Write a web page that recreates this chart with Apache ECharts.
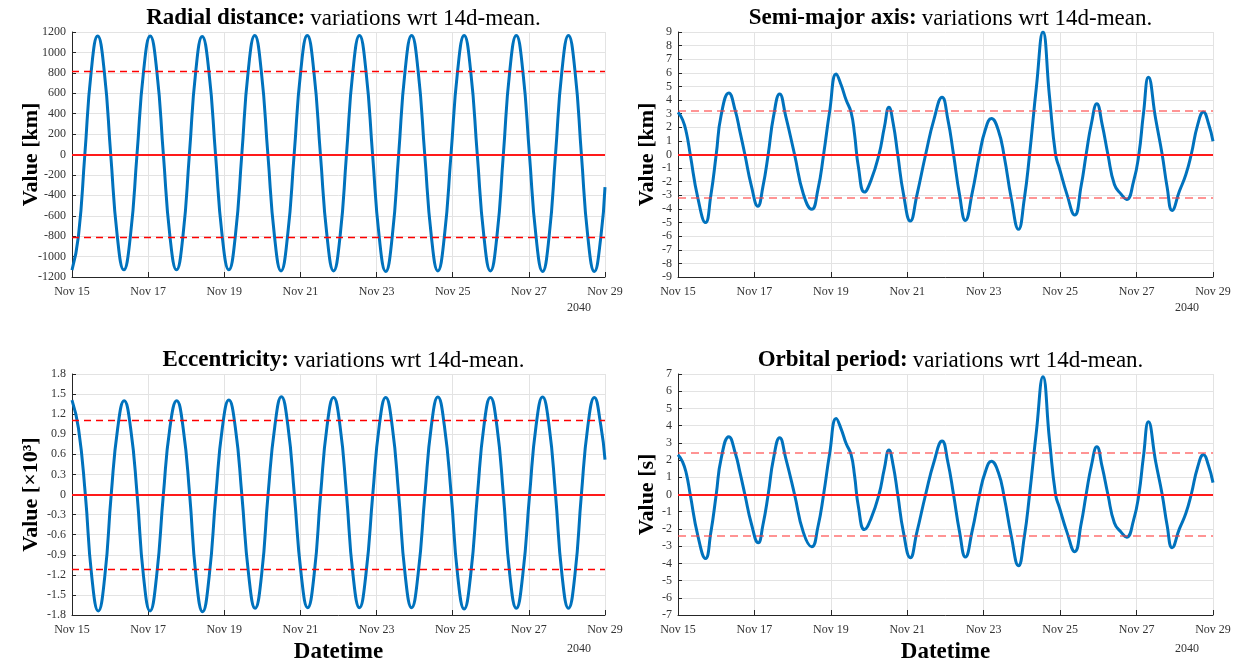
<!DOCTYPE html>
<html>
<head>
<meta charset="utf-8">
<script src="https://cdn.jsdelivr.net/npm/echarts@6/dist/echarts.min.js"></script>
<style>
  html, body { margin: 0; padding: 0; background: #ffffff; }
  #chart { width: 1241px; height: 665px; }
</style>
</head>
<body>
<div id="chart"></div>
<script>
// Time is measured in days since 2040-11-15 00:00 UTC.
const START_UTC = Date.UTC(2040, 10, 15);
const MONTHS = ['Jan','Feb','Mar','Apr','May','Jun','Jul','Aug','Sep','Oct','Nov','Dec'];
const yearLabel = '2040';

// Radial distance variations [km]
const radialDays = [0.00,0.169,0.337,0.506,0.674, 0.846,1.017,1.189,1.36, 1.534,1.707,1.881,2.054,
  2.227,2.400,2.572,2.745, 2.914,3.083,3.251,3.42, 3.595,3.770,3.945,4.12, 4.29,4.46,4.63,4.80,
  4.97,5.145,5.32,5.49, 5.66,5.835,6.01,6.18, 6.35,6.525,6.70,6.87, 7.04,7.21,7.38,7.55,
  7.72,7.895,8.07,8.24, 8.41,8.58,8.75,8.92, 9.09,9.265,9.44,9.61, 9.78,9.955,10.13,10.30,
  10.47,10.645,10.82,10.99, 11.16,11.33,11.50,11.67, 11.84,12.015,12.19,12.36,
  12.53,12.70,12.87,13.04, 13.21,13.38,13.55,13.72, 13.89,14.00];
const radialValues = [-1133,-801,0,820,1160, 820,0,-799,-1130, -799,0,820,1160,
  820,0,-799,-1130, -799,0,817,1155, 817,0,-799,-1130, -799,0,824,1165,
  824,0,-806,-1140, -806,0,824,1165, 824,0,-806,-1140, -806,0,824,1165,
  824,0,-810,-1145, -810,0,824,1165, 824,0,-806,-1140, -806,0,824,1165,
  824,0,-806,-1140, -806,0,824,1165, 824,0,-810,-1145,
  -810,0,824,1165, 824,0,-810,-1145, -810,-320];
const radialSpread = 815;

// Semi-major axis variations [km]
const smaDays = [0.00,0.12,0.22,0.32,0.52,0.72, 0.86,1.00,1.13,1.33, 1.50,1.62,1.75,1.92,2.09,
  2.22,2.36,2.50,2.66, 2.82,3.05,3.28,3.50, 3.66,3.81,3.97,4.14, 4.27,4.40,4.53,4.62,4.72,4.88,
  5.05,5.26,5.40,5.52, 5.63,5.75,5.90,6.08, 6.25,6.48,6.70,6.91, 7.06,7.21,7.37,7.52,
  7.70,7.89,8.04,8.20, 8.38,8.54,8.72,8.91, 9.06,9.20,9.38,9.55, 9.72,9.88,9.98,10.18,10.38,
  10.55,10.68,10.82,10.96, 11.10,11.25,11.42,11.60,11.74, 11.92,12.06,12.18,12.31,
  12.50,12.67,12.80,12.93, 13.12,13.29,13.43,13.60,13.75, 13.88,14.00];
const smaValues = [3.10,2.55,1.6,0,-3.2,-5.0, -3.0,0,2.9,4.52, 3.2,1.7,0,-2.3,-3.8,
  -2.4,0,2.8,4.45, 2.8,0,-2.9,-4.03, -2.6,0,3.2,5.92, 5.1,4.0,3.1,1.5,-0.9,-2.76,
  -1.9,0,2.0,3.47, 2.3,0,-2.9,-4.89, -3.0,0,2.6,4.2, 2.6,0,-3.0,-4.84,
  -2.8,0,1.8,2.64, 1.8,-0.2,-3.2,-5.5, -3.3,0,5.0,9.0, 4.3,0,-1.0,-2.95,-4.45,
  -2.3,0,2.3,3.72, 2.2,0,-2.2,-2.93,-3.30, -2.0,0,3.0,5.67,
  2.6,0,-2.4,-4.11, -2.7,-1.47,0,2.2,3.13, 2.3,0.98];
const smaSpread = 3.2;

// Eccentricity variations [x10^3]
const eccDays = [0.00,0.17,0.35,0.52,0.69, 0.86,1.03,1.20,1.37, 1.54,1.71,1.88,2.05,
  2.22,2.40,2.57,2.75, 2.92,3.09,3.26,3.43, 3.60,3.78,3.95,4.12, 4.29,4.46,4.64,4.81,
  4.98,5.15,5.33,5.50, 5.67,5.84,6.02,6.19, 6.36,6.53,6.70,6.87, 7.04,7.21,7.38,7.55,
  7.72,7.90,8.07,8.24, 8.41,8.58,8.75,8.92, 9.09,9.27,9.44,9.61, 9.78,9.96,10.13,10.30,
  10.47,10.65,10.82,10.99, 11.16,11.33,11.50,11.67, 11.84,12.02,12.19,12.36,
  12.53,12.70,12.87,13.04, 13.21,13.38,13.55,13.72, 13.89,14.00];
const eccValues = [1.41,0.99,0,-1.23,-1.74, -1.23,0,0.99,1.40, 0.99,0,-1.23,-1.74,
  -1.23,0,0.99,1.40, 0.99,0,-1.24,-1.75, -1.24,0,1.00,1.41, 1.00,0,-1.20,-1.70,
  -1.20,0,1.03,1.46, 1.03,0,-1.195,-1.69, -1.195,0,1.025,1.45, 1.025,0,-1.195,-1.69,
  -1.195,0,1.025,1.45, 1.025,0,-1.195,-1.69, -1.195,0,1.03,1.455, 1.03,0,-1.21,-1.71,
  -1.21,0,1.025,1.45, 1.025,0,-1.20,-1.70, -1.20,0,1.03,1.455,
  1.03,0,-1.20,-1.70, -1.20,0,1.025,1.45, 1.03,0.52];
const eccSpread = 1.11;

// Orbital period variations [s]
const periodDays = [0.00,0.12,0.22,0.32,0.52,0.72, 0.86,1.00,1.13,1.33, 1.50,1.62,1.75,1.92,2.10,
  2.22,2.36,2.50,2.66, 2.82,3.05,3.28,3.50, 3.66,3.81,3.97,4.14, 4.27,4.40,4.53,4.62,4.72,4.88,
  5.05,5.26,5.40,5.52, 5.63,5.75,5.90,6.08, 6.25,6.48,6.70,6.91, 7.06,7.21,7.37,7.52,
  7.70,7.89,8.04,8.20, 8.38,8.54,8.72,8.91, 9.06,9.20,9.38,9.55, 9.72,9.88,9.98,10.18,10.38,
  10.55,10.68,10.82,10.96, 11.10,11.25,11.42,11.60,11.74, 11.92,12.06,12.18,12.31,
  12.50,12.67,12.80,12.93, 13.12,13.29,13.43,13.60,13.75, 13.88,14.00];
const periodValues = [2.31,1.9,1.2,0,-2.4,-3.72, -2.2,0,2.1,3.36, 2.4,1.3,0,-1.7,-2.81,
  -1.8,0,2.1,3.30, 2.1,0,-2.2,-3.04, -1.9,0,2.4,4.41, 3.8,2.96,2.31,1.1,-0.7,-2.04,
  -1.4,0,1.5,2.58, 1.7,0,-2.2,-3.67, -2.2,0,1.9,3.11, 1.9,0,-2.2,-3.63,
  -2.1,0,1.3,1.93, 1.3,-0.2,-2.4,-4.14, -2.5,0,3.7,6.84, 3.2,0,-0.75,-2.2,-3.32,
  -1.7,0,1.7,2.77, 1.6,0,-1.65,-2.2,-2.48, -1.5,0,2.2,4.22,
  1.9,0,-1.8,-3.09, -2.0,-1.09,0,1.6,2.31, 1.7,0.69];
const periodSpread = 2.4;

const SERIF = '"Liberation Serif", "Times New Roman", "DejaVu Serif", serif';
const BLUE = '#0072BD';

const panels = [
  { title: 'Radial distance:', unit: 'Value [km]', days: radialDays, values: radialValues,
    spread: radialSpread, min: -1200, max: 1200, step: 200,
    rect: { left: 72, top: 32, width: 533, height: 245 }, nameGap: 30, bandStyle: 'strong', xName: '' },
  { title: 'Semi-major axis:', unit: 'Value [km]', days: smaDays, values: smaValues,
    spread: smaSpread, min: -9, max: 9, step: 1,
    rect: { left: 678, top: 32, width: 535, height: 245 }, nameGap: 20, bandStyle: 'soft', xName: '' },
  { title: 'Eccentricity:', unit: 'Value [\u00d710\u00b3]', days: eccDays, values: eccValues,
    spread: eccSpread, min: -1.8, max: 1.8, step: 0.3,
    rect: { left: 72, top: 374, width: 533, height: 244 }, nameGap: 30, bandStyle: 'strong', xName: 'Datetime' },
  { title: 'Orbital period:', unit: 'Value [s]', days: periodDays, values: periodValues,
    spread: periodSpread, min: -7, max: 7, step: 1,
    rect: { left: 678, top: 374, width: 535, height: 244 }, nameGap: 20, bandStyle: 'soft', xName: 'Datetime' }
];

function dayLabel(v) {
  const d = new Date(START_UTC + v * 86400000);
  return MONTHS[d.getUTCMonth()] + ' ' + d.getUTCDate();
}

const option = {
  backgroundColor: '#ffffff',
  animation: false,
  title: [], grid: [], xAxis: [], yAxis: [], series: [], graphic: []
};

panels.forEach((p, i) => {
  const r = p.rect;
  option.grid.push({ left: r.left, top: r.top, width: r.width, height: r.height, containLabel: false });
  option.title.push({
    text: '{b|' + p.title + '} {n|variations wrt 14d-mean.}',
    left: r.left + r.width / 2, top: r.top - 30, textAlign: 'center',
    textStyle: {
      rich: {
        b: { fontFamily: SERIF, fontWeight: 'bold', fontSize: 23, color: '#000' },
        n: { fontFamily: SERIF, fontWeight: 'normal', fontSize: 23, color: '#000' }
      }
    }
  });
  option.xAxis.push({
    type: 'value', gridIndex: i, min: 0, max: 14, interval: 2,
    name: p.xName, nameLocation: 'middle', nameGap: 26, nameMoveOverlap: false,
    nameTextStyle: { fontFamily: SERIF, fontWeight: 'bold', fontSize: 23, color: '#000' },
    axisLine: { show: true, onZero: false, lineStyle: { color: '#262626', width: 1 } },
    axisTick: { show: true, inside: true, length: 5, lineStyle: { color: '#262626' } },
    axisLabel: { formatter: dayLabel, fontFamily: SERIF, fontSize: 12, color: '#333', margin: 9, showMinLabel: true, showMaxLabel: true },
    splitLine: { show: true, lineStyle: { color: '#e3e3e3', width: 1 } }
  });
  option.yAxis.push({
    type: 'value', gridIndex: i, min: p.min, max: p.max, interval: p.step,
    name: p.unit, nameLocation: 'middle', nameGap: p.nameGap, nameRotate: 90, nameMoveOverlap: false,
    nameTextStyle: { fontFamily: SERIF, fontWeight: 'bold', fontSize: 22, color: '#000' },
    axisLine: { show: true, lineStyle: { color: '#262626', width: 1 } },
    axisTick: { show: true, inside: true, length: 4, lineStyle: { color: '#262626' } },
    axisLabel: {
      fontFamily: SERIF, fontSize: 12, color: '#333', margin: 6,
      formatter: v => String(Math.round(v * 10) / 10)
    },
    splitLine: { show: true, lineStyle: { color: '#e3e3e3', width: 1 } }
  });
  const dashed = p.bandStyle === 'strong'
    ? { color: '#ff0000', width: 1.3, type: [7, 5] }
    : { color: 'rgba(255,60,60,0.55)', width: 2, type: [8, 5] };
  option.series.push({
    type: 'line', xAxisIndex: i, yAxisIndex: i,
    data: p.days.map((d, k) => [d, p.values[k]]),
    smooth: 0.5, showSymbol: false, symbol: 'none',
    lineStyle: { color: BLUE, width: 3 },
    clip: true,
    markLine: {
      silent: true, symbol: 'none', label: { show: false }, animation: false,
      data: [
        { yAxis: 0, lineStyle: { color: '#ff1a1a', width: 2, type: 'solid' } },
        { yAxis: p.spread, lineStyle: dashed },
        { yAxis: -p.spread, lineStyle: dashed }
      ]
    }
  });
  option.graphic.push({
    type: 'text', left: r.left + r.width - 38, top: r.top + r.height + 25,
    style: { text: yearLabel, font: '12px ' + SERIF, fill: '#333' }
  });
});

const chart = echarts.init(document.getElementById('chart'), null, { renderer: 'canvas' });
chart.setOption(option);
</script>
</body>
</html>
